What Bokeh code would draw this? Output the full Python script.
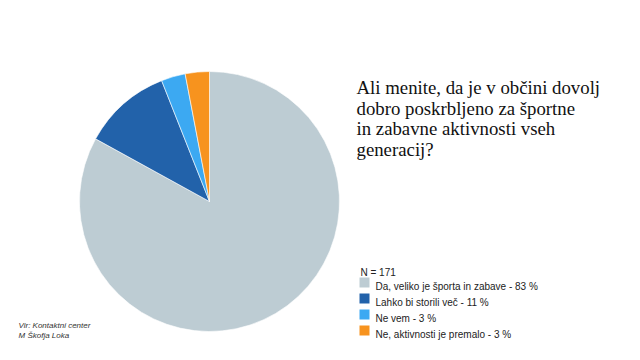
import math
from bokeh.plotting import figure
from bokeh.models import Label, ColumnDataSource
from bokeh.embed import file_html
from bokeh.resources import INLINE

# ---- data ----
categories = ["Da, veliko je športa in zabave", "Lahko bi storili več", "Ne vem", "Ne, aktivnosti je premalo"]
percents = [83, 11, 3, 3]
colors = ["#bdccd3", "#2262aa", "#3ca9f2", "#f7931e"]
title_lines = ["Ali menite, da je v občini dovolj", "dobro poskrbljeno za športne",
               "in zabavne aktivnosti vseh", "generacij?"]
n_label = "N = 171"
source_lines = ["Vir: Kontaktni center", "M Škofja Loka"]

W, H = 624, 344
p = figure(width=W, height=H, x_range=(0, W), y_range=(0, H),
           output_backend="svg", toolbar_location=None, min_border=0)
p.axis.visible = False
p.grid.visible = False
p.outline_line_color = None
p.background_fill_color = "white"

def Y(img_y):
    return H - img_y
def X(img_x):
    return img_x

# pie
total = sum(percents)
starts, ends = [], []
a = math.pi / 2
for v in percents:
    starts.append(a)
    a -= 2 * math.pi * v / total
    ends.append(a)
src = ColumnDataSource(dict(start=starts, end=ends, color=colors))
p.wedge(x=X(209), y=Y(201), radius=130, start_angle="start", end_angle="end",
        direction="clock", fill_color="color", line_color="white", line_width=0.6, source=src)

# title
for i, t in enumerate(title_lines):
    p.add_layout(Label(x=X(356), y=Y(87 + i * 20.5), text=t, text_font="Liberation Serif",
                       text_font_size="18.8px", text_color="#111111", text_baseline="alphabetic"))

# legend
p.add_layout(Label(x=X(360), y=Y(272), text=n_label, text_font="Liberation Sans",
                   text_font_size="10px", text_color="#222222", text_baseline="alphabetic"))
for i, (c, v, col) in enumerate(zip(categories, percents, colors)):
    yc = 282 + i * 16
    p.rect(x=X(364), y=Y(yc), width=10, height=10, fill_color=col, line_color=None)
    p.add_layout(Label(x=X(375), y=Y(yc + 4), text=f"{c} - {v} %", text_font="Liberation Sans",
                       text_font_size="10px", text_color="#222222", text_baseline="alphabetic"))

# source
for i, t in enumerate(source_lines):
    p.add_layout(Label(x=X(18), y=Y(325 + i * 9.5), text=t, text_font="Liberation Sans",
                       text_font_size="8px", text_font_style="italic", text_color="#333333",
                       text_baseline="alphabetic"))

open("out.html", "w").write(file_html(p, INLINE))
